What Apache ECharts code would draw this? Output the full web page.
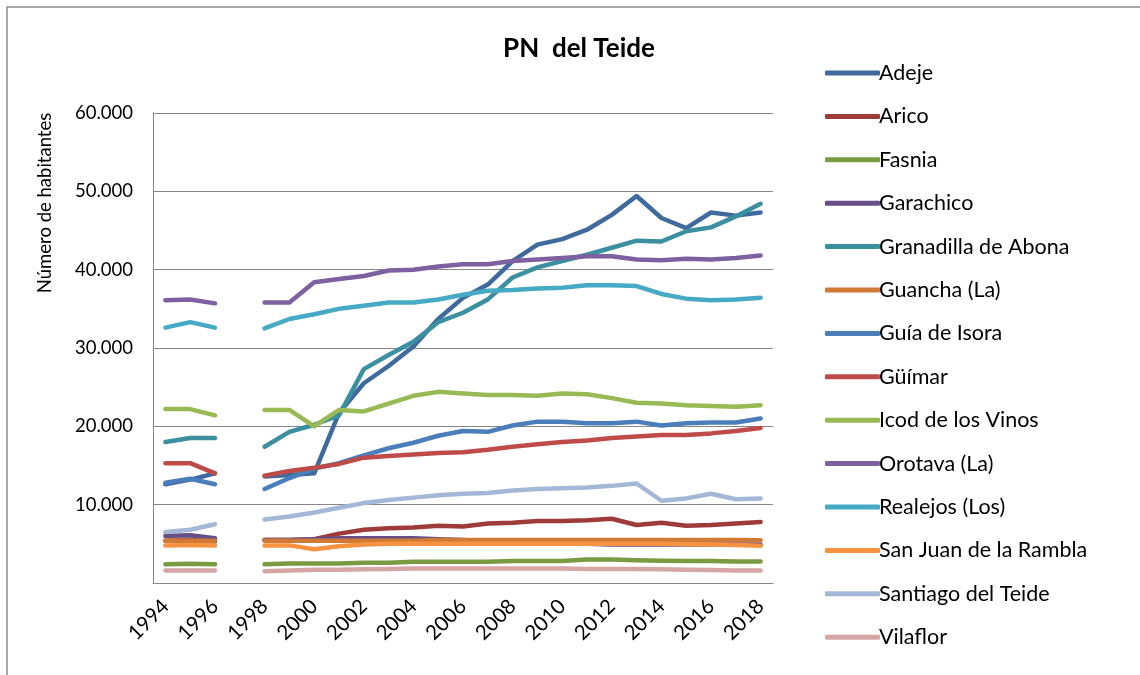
<!DOCTYPE html>
<html>
<head>
<meta charset="utf-8">
<script src="https://cdn.jsdelivr.net/npm/echarts@6/dist/echarts.min.js"></script>
<style>
  html, body { margin: 0; padding: 0; background: #fff; }
  #chart { width: 1140px; height: 675px; }
</style>
</head>
<body>
<div id="chart"></div>
<script>
// Years on the category axis (1997 has no data, drawn as a gap)
const years = ['1994','1995','1996','1997','1998','1999','2000','2001','2002','2003','2004','2005','2006','2007','2008','2009','2010','2011','2012','2013','2014','2015','2016','2017','2018'];

// Population per municipality (null = no data)
const adeje       = [12600,13200,14000,null,13600,13800,14000,21700,25500,27700,30200,33700,36400,38100,41100,43200,43900,45100,47000,49400,46600,45300,47300,46900,47300];
const arico       = [5400,5500,5300,null,5500,5500,5600,6300,6800,7000,7100,7300,7200,7600,7700,7900,7900,8000,8200,7400,7700,7300,7400,7600,7800];
const fasnia      = [2400,2450,2400,null,2400,2500,2500,2500,2600,2600,2700,2700,2700,2700,2800,2800,2800,3000,3000,2900,2850,2800,2800,2750,2750];
const garachico   = [6000,6100,5700,null,5500,5500,5600,5700,5700,5700,5700,5600,5500,5300,5200,5100,5000,5000,4900,4900,4900,4900,4900,4900,4900];
const granadilla  = [18000,18500,18500,null,17400,19300,20200,21400,27300,29100,30800,33300,34500,36200,39000,40300,41100,41900,42800,43700,43600,44900,45400,46800,48400];
const guancha     = [5400,5400,5400,null,5400,5400,5400,5400,5400,5400,5400,5500,5500,5500,5500,5500,5500,5500,5500,5500,5500,5500,5500,5500,5450];
const guiaIsora   = [12800,13300,12600,null,12000,13400,14600,15300,16300,17200,17900,18800,19400,19300,20100,20600,20600,20400,20400,20600,20100,20400,20500,20500,21000];
const guimar      = [15300,15300,14000,null,13700,14300,14700,15200,16000,16200,16400,16600,16700,17000,17400,17700,18000,18200,18500,18700,18900,18900,19100,19400,19800];
const icod        = [22200,22200,21400,null,22100,22100,20000,22100,21900,22900,23900,24400,24200,24000,24000,23900,24200,24100,23600,23000,22900,22700,22600,22500,22700];
const orotava     = [36100,36200,35700,null,35800,35800,38400,38800,39200,39900,40000,40400,40700,40700,41100,41300,41500,41700,41700,41300,41200,41400,41300,41500,41800];
const realejos    = [32600,33300,32600,null,32500,33700,34300,35000,35400,35800,35800,36200,36800,37300,37400,37600,37700,38000,38000,37900,36900,36300,36100,36200,36400];
const sanJuan     = [4800,4850,4800,null,4800,4800,4300,4700,4900,5000,5000,5000,5000,5000,5000,5000,5000,5000,5000,5000,5000,4950,4900,4850,4750];
const santiago    = [6500,6800,7500,null,8100,8500,9000,9600,10200,10600,10900,11200,11400,11500,11800,12000,12100,12200,12400,12700,10500,10800,11400,10700,10800];
const vilaflor    = [1600,1600,1600,null,1500,1600,1700,1700,1750,1800,1850,1850,1850,1850,1850,1850,1850,1800,1800,1800,1750,1700,1650,1600,1600];

const seriesDefs = [
  ['Adeje', adeje, '#3E6A9E'],
  ['Arico', arico, '#9E3B38'],
  ['Fasnia', fasnia, '#7A9A41'],
  ['Garachico', garachico, '#664E86'],
  ['Granadilla de Abona', granadilla, '#3A8FA1'],
  ['Guancha (La)', guancha, '#D07A36'],
  ['Guía de Isora', guiaIsora, '#4A7EBB'],
  ['Güímar', guimar, '#BE4B48'],
  ['Icod de los Vinos', icod, '#98B954'],
  ['Orotava (La)', orotava, '#7D60A0'],
  ['Realejos (Los)', realejos, '#46AAC5'],
  ['San Juan de la Rambla', sanJuan, '#F69240'],
  ['Santiago del Teide', santiago, '#A5B7D6'],
  ['Vilaflor', vilaflor, '#D6A5A5']
];

const FONT = 'Lato, "Open Sans", sans-serif';

function fmtThousands(v) {
  if (v === 0) return '';
  return String(v).replace(/\B(?=(\d{3})+(?!\d))/g, '.');
}

const chart = echarts.init(document.getElementById('chart'), null, { renderer: 'canvas' });

chart.setOption({
  animation: false,
  backgroundColor: '#ffffff',
  title: {
    text: 'PN  del Teide',
    left: 574,
    top: 31,
    textAlign: 'center',
    textStyle: { fontFamily: FONT, fontSize: 26, fontWeight: 'bold', color: '#000' }
  },
  graphic: [
    {
      type: 'rect',
      shape: { x: 7, y: 7, width: 1200, height: 700 },
      style: { fill: 'none', stroke: '#8c8c8c', lineWidth: 1.5 },
      silent: true
    },
    {
      type: 'text',
      x: 45,
      y: 203,
      rotation: Math.PI / 2,
      style: {
        text: 'Número de habitantes',
        fontFamily: FONT,
        fontSize: 18.5,
        fill: '#000',
        align: 'center',
        verticalAlign: 'middle'
      },
      silent: true
    }
  ],
  legend: {
    orient: 'vertical',
    left: 820,
    top: 56,
    itemWidth: 55,
    itemHeight: 5,
    itemGap: 19.4,
    icon: 'roundRect',
    textStyle: { fontFamily: FONT, fontSize: 21.5, lineHeight: 24, color: '#000', padding: [0, 0, 0, -6] },
    data: seriesDefs.map(d => d[0])
  },
  grid: { left: 153, top: 113, width: 620, height: 470, containLabel: false },
  xAxis: {
    type: 'category',
    data: years,
    boundaryGap: true,
    axisLine: { show: true, lineStyle: { color: '#868686', width: 1 } },
    axisTick: { show: false },
    axisLabel: {
      interval: 1,
      rotate: 45,
      margin: 20,
      fontFamily: FONT,
      fontSize: 20.5,
      color: '#000'
    },
    splitLine: { show: false }
  },
  yAxis: {
    type: 'value',
    min: 0,
    max: 60000,
    interval: 10000,
    axisLine: { show: true, lineStyle: { color: '#868686', width: 1 } },
    axisTick: { show: false },
    axisLabel: {
      formatter: fmtThousands,
      margin: 20,
      fontFamily: FONT,
      fontSize: 18.5,
      color: '#000'
    },
    splitLine: { show: true, lineStyle: { color: '#868686', width: 1 } }
  },
  series: seriesDefs.map(([name, data, color]) => ({
    name: name,
    type: 'line',
    data: data,
    connectNulls: false,
    showSymbol: false,
    symbol: 'none',
    color: color,
    lineStyle: { color: color, width: 4.5, cap: 'round', join: 'round' },
    emphasis: { disabled: true }
  }))
});
</script>
</body>
</html>
